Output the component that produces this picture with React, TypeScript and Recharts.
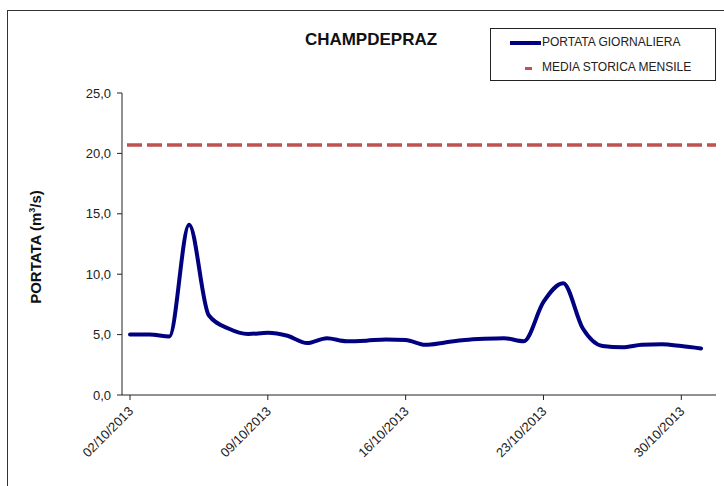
import { LineChart, Line, XAxis, YAxis, ReferenceLine, Label } from 'recharts';

const DATES = [
  '02/10/2013', '03/10/2013', '04/10/2013', '05/10/2013', '06/10/2013', '07/10/2013',
  '08/10/2013', '09/10/2013', '10/10/2013', '11/10/2013', '12/10/2013', '13/10/2013',
  '14/10/2013', '15/10/2013', '16/10/2013', '17/10/2013', '18/10/2013', '19/10/2013',
  '20/10/2013', '21/10/2013', '22/10/2013', '23/10/2013', '24/10/2013', '25/10/2013',
  '26/10/2013', '27/10/2013', '28/10/2013', '29/10/2013', '30/10/2013', '31/10/2013',
];

const PORTATA = [
  5.0, 5.0, 4.85, 14.1, 6.6, 5.5, 5.05, 5.15, 4.9, 4.3,
  4.7, 4.45, 4.5, 4.6, 4.55, 4.15, 4.35, 4.55, 4.65, 4.7,
  4.45, 7.7, 9.25, 5.5, 4.05, 3.95, 4.15, 4.2, 4.05, 3.85,
];

const MEDIA_STORICA = 20.7;
const Y_TICKS = [0, 5, 10, 15, 20, 25];

const data = DATES.map((d, i) => ({ date: d, portata: PORTATA[i] }));

const FONT = '"Liberation Sans", Arial, sans-serif';

function DateTick({ x, y, payload }: { x?: number; y?: number; payload?: { value: string } }) {
  const tx = (x ?? 0) + 4;
  const ty = (y ?? 0) + 10;
  return (
    <text
      x={tx}
      y={ty}
      textAnchor="end"
      fontSize={13}
      fontFamily={FONT}
      fill="#222"
      transform={`rotate(-45, ${tx}, ${ty})`}
    >
      {payload?.value}
    </text>
  );
}

export default function App() {
  return (
    <div
      style={{
        position: 'absolute', left: 0, top: 0, width: 724, height: 486,
        overflow: 'hidden', background: '#fff', fontFamily: FONT,
      }}
    >
      {/* outer frame */}
      <div style={{ position: 'absolute', left: 7, top: 10, width: 800, height: 600, border: '1px solid #333' }} />

      <div
        style={{
          position: 'absolute', left: 296, top: 30, width: 150, textAlign: 'center',
          fontSize: 17, fontWeight: 'bold', color: '#111',
        }}
      >
        CHAMPDEPRAZ
      </div>

      {/* legend */}
      <div
        style={{
          position: 'absolute', left: 490, top: 28, width: 224, height: 51,
          border: '1px solid #222', fontSize: 12, color: '#222',
        }}
      >
        <div style={{ position: 'absolute', left: 19, top: 12, width: 31, height: 4, background: '#000080' }} />
        <div style={{ position: 'absolute', left: 51, top: 6 }}>PORTATA GIORNALIERA</div>
        <div style={{ position: 'absolute', left: 34, top: 38, width: 7, height: 3, background: '#be5250' }} />
        <div style={{ position: 'absolute', left: 51, top: 31 }}>MEDIA STORICA MENSILE</div>
      </div>

      <LineChart
        width={724}
        height={486}
        data={data}
        margin={{ top: 93, right: 8, bottom: 0, left: 0 }}
        style={{ position: 'absolute', left: 0, top: 0 }}
      >
        <XAxis
          dataKey="date"
          interval={6}
          padding={{ left: 8, right: 15 }}
          tick={<DateTick />}
          tickSize={5}
          axisLine={{ stroke: '#222' }}
          tickLine={{ stroke: '#222' }}
          height={91}
        />
        <YAxis
          width={122}
          domain={[0, 25]}
          ticks={Y_TICKS}
          tickFormatter={(v: number) => v.toFixed(1).replace('.', ',')}
          tick={{ fontSize: 13, fill: '#222', fontFamily: FONT }}
          tickSize={5}
          tickMargin={6}
          axisLine={{ stroke: '#222' }}
          tickLine={{ stroke: '#222' }}
        >
          <Label
            content={() => (
              <text
                x={41}
                y={247}
                textAnchor="middle"
                fontSize={15}
                fontWeight="bold"
                fontFamily={FONT}
                fill="#111"
                transform="rotate(-90, 41, 247)"
              >
                PORTATA (m<tspan fontSize={9} dy={-6}>3</tspan><tspan dy={6}>/s)</tspan>
              </text>
            )}
          />
        </YAxis>
        <ReferenceLine
          y={MEDIA_STORICA}
          stroke="#be5250"
          strokeWidth={3.5}
          strokeDasharray="15 5"
          strokeDashoffset={15}
        />
        <Line
          type="monotone"
          dataKey="portata"
          stroke="#000080"
          strokeWidth={4}
          strokeLinecap="round"
          dot={false}
          activeDot={false}
          isAnimationActive={false}
        />
      </LineChart>
    </div>
  );
}
